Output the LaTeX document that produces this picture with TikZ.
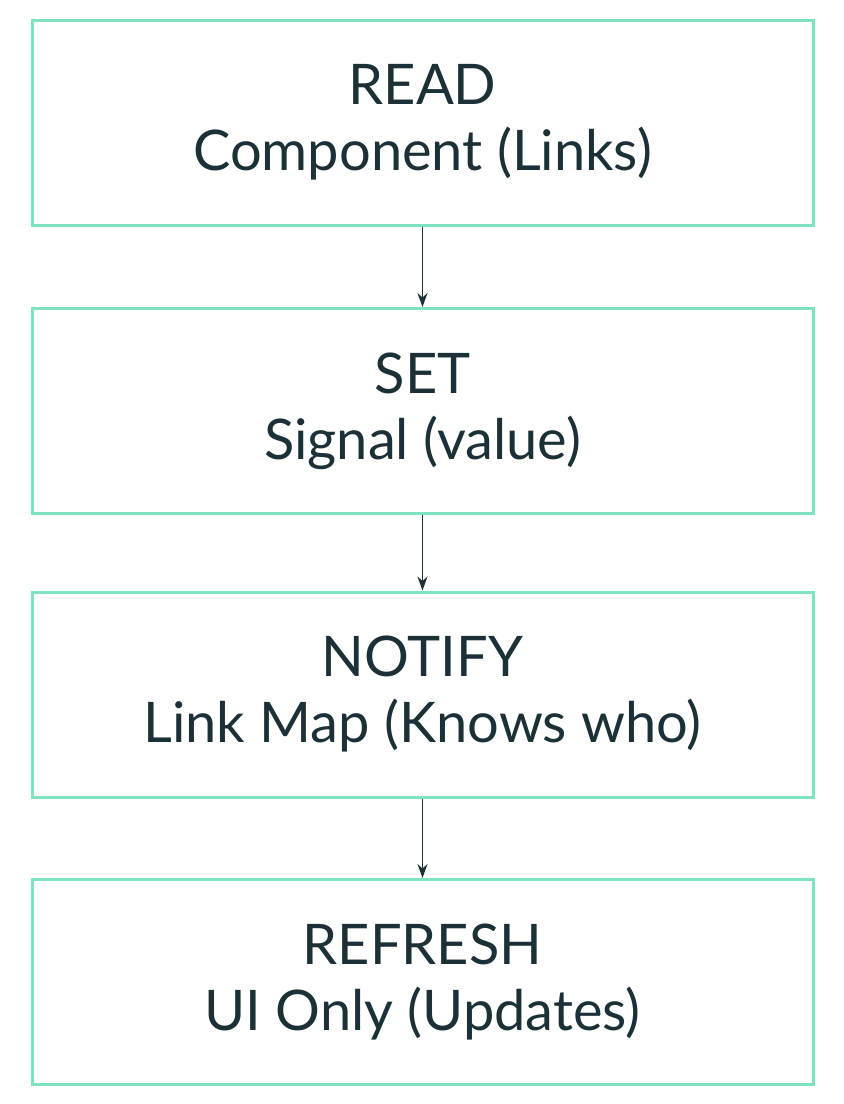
\documentclass[tikz,border=0pt]{standalone}
\usepackage{fontspec}
\setmainfont{Lato}
\usetikzlibrary{arrows.meta}
\definecolor{bord}{HTML}{7EE3C2}
\definecolor{txt}{HTML}{1C3038}
\begin{document}
\begin{tikzpicture}[x=1pt,y=-1pt,
  box/.style={draw=bord,line width=3pt,minimum width=781pt,minimum height=205pt,align=center,text=txt,font=\fontsize{56}{66}\selectfont},
  arr/.style={draw=txt,line width=1.5pt,-{Stealth[length=14pt,width=10pt]}}]
\useasboundingbox (0,0) rectangle (844,1104);
\node[box] (a) at (422.5,122.5) {READ\\Component (Links)};
\node[box] (b) at (422.5,411) {SET\\Signal (value)};
\node[box] (c) at (422.5,694.5) {NOTIFY\\Link Map (Knows who)};
\node[box] (d) at (422.5,982) {REFRESH\\UI Only (Updates)};
\draw[arr] (a) -- (b);
\draw[arr] (b) -- (c);
\draw[arr] (c) -- (d);
\end{tikzpicture}
\end{document}
